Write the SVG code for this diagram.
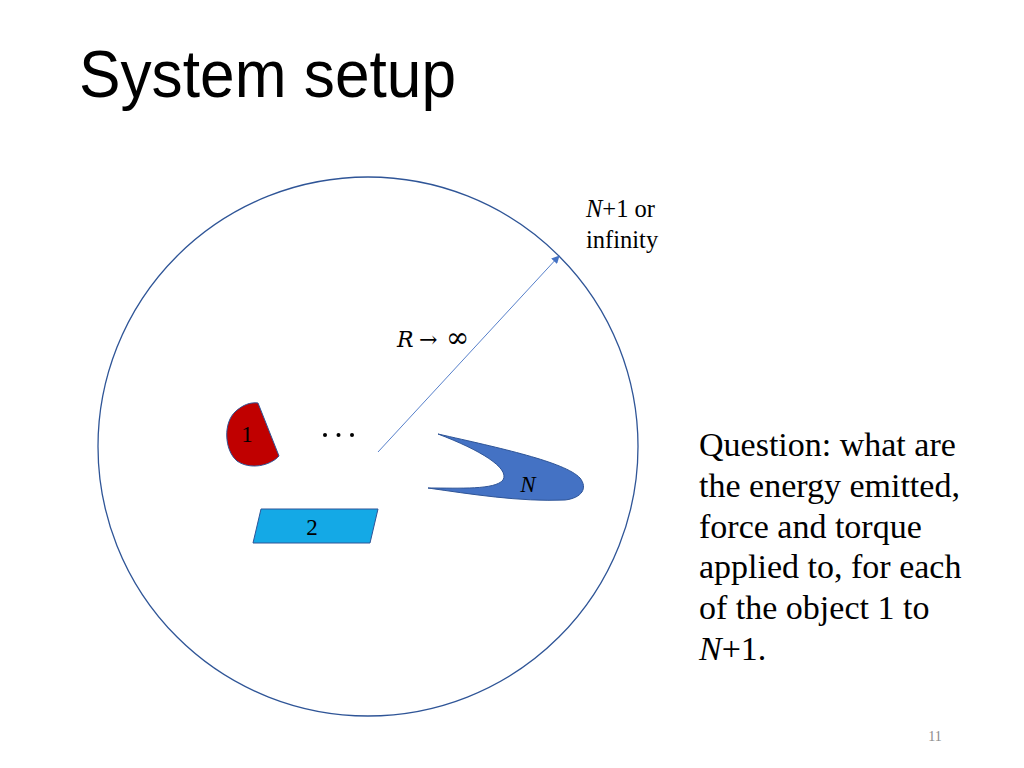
<svg xmlns="http://www.w3.org/2000/svg" width="1024" height="768" viewBox="0 0 1024 768">
<style>
.serif{font-family:"Liberation Serif","Times New Roman",serif;fill:#000}
.title{font-family:"Liberation Sans",Arial,sans-serif;font-size:66px;fill:#000}
.q{font-family:"Liberation Serif",serif;font-size:34px;fill:#000}
.math{font-family:"DejaVu Serif",serif;fill:#000}
</style>
<defs>
<marker id="ah" viewBox="0 0 10 10" refX="9" refY="5" markerWidth="8" markerHeight="8" orient="auto" markerUnits="userSpaceOnUse">
<path d="M0,0 L10,5 L0,10 Z" fill="#4472c4"/>
</marker>
</defs>
<rect width="1024" height="768" fill="#fff"/>
<text class="title" x="79" y="97" textLength="377" lengthAdjust="spacingAndGlyphs">System setup</text>
<g id="boundary">
<ellipse cx="368" cy="446.5" rx="270" ry="269.5" fill="none" stroke="#2f5597" stroke-width="1.3"/>
<text class="serif" x="586" y="217" font-size="24.5"><tspan font-style="italic">N</tspan>+1 or</text>
<text class="serif" x="586" y="248" font-size="24.5">infinity</text>
</g>
<g id="connectors">
<line x1="378" y1="452" x2="559" y2="256" stroke="#4472c4" stroke-width="0.9" marker-end="url(#ah)"/>
<text class="math" x="397" y="347" font-size="22"><tspan font-style="italic">R</tspan><tspan x="419">→</tspan><tspan x="446" font-size="28">∞</tspan></text>
</g>
<g id="node1">
<path d="M258,403 L279,456 C270,466 250,470 237,461 C224,450 223,422 236,411 C243,405 250,402 258,403 Z" fill="#c00000" stroke="#2f5597" stroke-width="1"/>
<text class="serif" x="247" y="442" font-size="23" text-anchor="middle">1</text>
</g>
<g id="dots">
<circle cx="325" cy="435" r="2" fill="#000"/>
<circle cx="338.5" cy="435" r="2" fill="#000"/>
<circle cx="352" cy="435" r="2" fill="#000"/>
</g>
<g id="node2">
<path d="M261,509 L378,509 L370,543 L253,543 Z" fill="#14a9e6" stroke="#2f5597" stroke-width="1"/>
<text class="serif" x="312" y="535" font-size="23" text-anchor="middle">2</text>
</g>
<g id="nodeN">
<path d="M438,434 C500,448 565,462 580,478 C588,488 582,498 565,500 C520,502 470,494 428,488 C460,488 495,490 503,480 C510,468 480,450 438,434 Z" fill="#4472c4" stroke="#2f5597" stroke-width="1"/>
<text class="serif" x="528" y="492" font-size="23" font-style="italic" text-anchor="middle">N</text>
</g>
<g id="question">
<text class="q" x="699" y="456">Question: what are</text>
<text class="q" x="699" y="496.8">the energy emitted,</text>
<text class="q" x="699" y="537.6">force and torque</text>
<text class="q" x="699" y="578.4">applied to, for each</text>
<text class="q" x="699" y="619.2">of the object 1 to</text>
<text class="q" x="699" y="660"><tspan font-style="italic">N</tspan>+1.</text>
</g>
<text x="935" y="741" font-family="Liberation Serif,serif" font-size="14" fill="#8c8c8c" text-anchor="middle">11</text>
</svg>
